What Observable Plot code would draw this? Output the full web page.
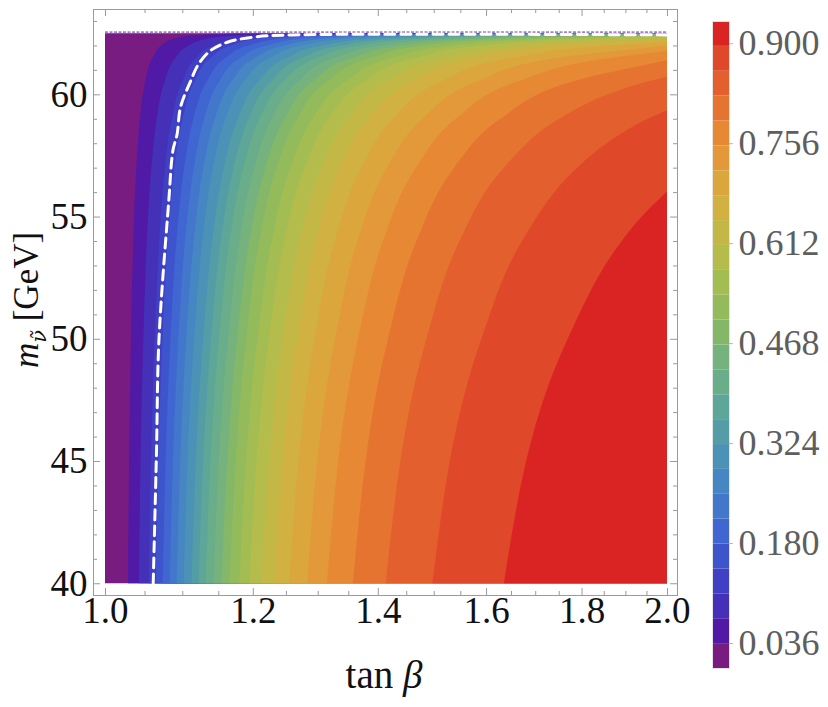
<!DOCTYPE html>
<html><head><meta charset="utf-8">
<script src="https://cdn.jsdelivr.net/npm/d3@7"></script>
<script src="https://cdn.jsdelivr.net/npm/@observablehq/plot@0.6"></script>
<style>
body{margin:0;background:#fff;}
#wrap{position:relative;width:828px;height:707px;background:#fff;}
#wrap svg{position:absolute;left:0;top:0;overflow:visible;}
</style></head><body><div id="wrap"></div>
<script>
// ---------------- data ----------------
const xDataRange = [1.0, 2.0];      // tan beta
const mDataRange = [40, 62.5];      // sneutrino mass [GeV]
const topEdgeM = 62.56;             // jagged purple upper edge

// 26 filled bands, lowest to highest
const bandColors = [
  "#781c81","#5019a6","#4530b8","#3f40c4","#3e54cd","#3f66d1","#4277cc","#4686c3",
  "#4c92b6","#559da6","#5ea698","#69ad8a","#76b27d","#84b768","#94bb5b","#a4bd52",
  "#b4bc4b","#c3b846","#d0b142","#dba73d","#e39939","#e68834","#e67431","#e45f2e",
  "#df4829","#da2423"
];

// contour boundaries between bands (lower edge of band k+1): m samples and tan(beta) positions
const boundaryM = [
  [40,50,54,57,59,60.5,61.5,62,62.3,62.42,62.48,62.5],
  [40,50,54,57,59,60.5,61.5,62,62.3,62.42,62.48,62.5],
  [40,50,54,57,59,60.5,61.5,62,62.3,62.42,62.48,62.5],
  [40,50,54,57,59,60.5,61.5,62,62.3,62.42,62.48,62.5],
  [40,50,54,57,59,60.5,61.5,62,62.3,62.42,62.48,62.5],
  [40,50,54,57,59,60.5,61.5,62,62.3,62.42,62.48,62.5],
  [40,50,54,57,59,60.5,61.5,62,62.3,62.42,62.48,62.5],
  [40,50,54,57,59,60.5,61.5,62,62.3,62.42,62.48,62.5],
  [40,50,54,57,59,60.5,61.5,62,62.3,62.42,62.48,62.5],
  [40,50,54,57,59,60.5,61.5,62,62.3,62.42,62.475],
  [40,50,54,57,59,60.5,61.5,62,62.3,62.42,62.467],
  [40,50,54,57,59,60.5,61.5,62,62.3,62.42,62.455],
  [40,50,54,57,59,60.5,61.5,62,62.3,62.42,62.441],
  [40,50,54,57,59,60.5,61.5,62,62.3,62.42,62.423],
  [40,50,54,57,59,60.5,61.5,62,62.3,62.396],
  [40,50,54,57,59,60.5,61.5,62,62.3,62.363],
  [40,50,54,57,59,60.5,61.5,62,62.3,62.3125],
  [40,50,54,57,59,60.5,61.5,62,62.244],
  [40,50,54,57,59,60.5,61.5,62,62.145],
  [40,50,54,57,59,60.5,61.5,61.99],
  [40,50,54,57,59,60.5,61.5,61.77],
  [40,50,54,57,59,60.5,61.39],
  [40,50,54,57,59,60,60.5,60.72],
  [40,50,54,57,58,59,59.35],
  [40,50,54,55,56.02]
];
const boundaryX = [
  [1.0287,1.0325,1.0355,1.0394,1.0441,1.0507,1.0605,1.0723,1.0917,1.1168,1.1699,2],
  [1.0426,1.0484,1.0529,1.0588,1.0658,1.0759,1.0908,1.1088,1.1389,1.1783,1.2638,2],
  [1.0555,1.0631,1.0691,1.0768,1.0861,1.0994,1.1192,1.1434,1.1840,1.2381,1.3590,2],
  [1.0646,1.0735,1.0805,1.0896,1.1005,1.1161,1.1395,1.1683,1.2170,1.2825,1.4325,2],
  [1.0738,1.0840,1.0921,1.1025,1.1151,1.1332,1.1604,1.1939,1.2512,1.3292,1.5128,2],
  [1.0831,1.0946,1.1037,1.1157,1.1299,1.1506,1.1817,1.2203,1.2868,1.3785,1.6015,2],
  [1.0924,1.1053,1.1156,1.1289,1.1450,1.1683,1.2035,1.2474,1.3238,1.4309,1.7003,2],
  [1.1019,1.1161,1.1276,1.1424,1.1603,1.1863,1.2258,1.2754,1.3625,1.4865,1.8117,2],
  [1.1127,1.1287,1.1414,1.1580,1.1781,1.2073,1.2520,1.3085,1.4088,1.5549,1.9588,2],
  [1.1223,1.1397,1.1536,1.1719,1.1939,1.2261,1.2755,1.3384,1.4515,1.6194,2],
  [1.1320,1.1509,1.1661,1.1859,1.2099,1.2453,1.2996,1.3694,1.4963,1.6890,2],
  [1.1432,1.1638,1.1804,1.2022,1.2286,1.2676,1.3280,1.4061,1.5505,1.7760,2],
  [1.1545,1.1769,1.1950,1.2187,1.2477,1.2905,1.3573,1.4445,1.6083,1.8723,2],
  [1.1659,1.1902,1.2097,1.2356,1.2671,1.3140,1.3875,1.4845,1.6700,1.9801,2],
  [1.1803,1.2069,1.2285,1.2570,1.2919,1.3442,1.4267,1.5371,1.7537,2],
  [1.1949,1.2240,1.2476,1.2789,1.3174,1.3753,1.4677,1.5930,1.8459,2],
  [1.2126,1.2447,1.2709,1.3057,1.3488,1.4140,1.5193,1.6649,1.9703,2],
  [1.2321,1.2677,1.2968,1.3357,1.3840,1.4578,1.5787,1.7498,2],
  [1.2550,1.2947,1.3274,1.3712,1.4261,1.5109,1.6522,1.8584,2],
  [1.2830,1.3281,1.3653,1.4156,1.4792,1.5787,1.7487,2],
  [1.3149,1.3662,1.4089,1.4672,1.5415,1.6599,1.8686,2],
  [1.3576,1.4177,1.4683,1.5382,1.6287,1.7766,2],
  [1.4137,1.4864,1.5484,1.6355,1.7511,1.8603,1.9474,2],
  [1.4974,1.5909,1.6726,1.7903,1.8566,1.9535,2],
  [1.6356,1.7694,1.8915,1.9388,2]
];

// white dashed exclusion contour
const dashM = [40,45.37,49.95,55.67,57.72,58.40,59.49,60.5,61.27,61.81,62.15,62.36,62.45,62.45];
const dashX = [1.0606,1.0649,1.0681,1.0812,1.0867,1.0924,1.0969,1.1098,1.1219,1.1383,1.1620,1.2002,1.26,2.0];

// axis ticks
const xTicksMajor = [1.0,1.2,1.4,1.6,1.8,2.0];
const xTicksMinor = [1.05,1.1,1.15,1.25,1.3,1.35,1.45,1.5,1.55,1.65,1.7,1.75,1.85,1.9,1.95];
const mTicksMajor = [40,45,50,55,60];
const mTicksMinor = [41,42,43,44,46,47,48,49,51,52,53,54,56,57,58,59,61,62,63];

// colour bar
const colorbarEdges = [0,0.0358,0.0717,0.1075,0.1434,0.1792,0.2151,0.2509,0.2868,0.3226,0.3585,0.3943,0.4302,
  0.4660,0.5018,0.5377,0.5735,0.6094,0.6452,0.6811,0.7169,0.7528,0.7886,0.8245,0.8603,0.8962,0.932];
const colorbarTicks = [0.036,0.180,0.324,0.468,0.612,0.756,0.900];

// ---------------- drawing ----------------
const W = 828, H = 707;
const mL = 93, mR = 151, mT = 9, mB = 112;
const frameW = W - mL - mR, frameH = H - mT - mB;
const serif = "Liberation Serif, Times New Roman, serif";
const gray = "#9a9a9a";

const boundaryRows = boundaryM.map((ms, k) => ms.map((m, i) => ({m, x: boundaryX[k][i], right: xDataRange[1]})));
const dashRows = dashM.map((m, i) => ({m, x: dashX[i]}));

const marks = [];
marks.push(Plot.rect([{x1: xDataRange[0], x2: xDataRange[1], y1: mDataRange[0], y2: mDataRange[1]}],
  {x1: "x1", x2: "x2", y1: "y1", y2: "y2", fill: bandColors[0]}));
boundaryRows.forEach((rows, k) => {
  marks.push(Plot.areaX(rows, {y: "m", x1: "x", x2: "right", fill: bandColors[k + 1], curve: "monotone-y"}));
});
marks.push(Plot.ruleY([topEdgeM], {y: d => d, x1: xDataRange[0], x2: xDataRange[1], stroke: "#8b55b5", strokeWidth: 2, strokeOpacity: 0.75, strokeDasharray: "3,1.5"}));
marks.push(Plot.line(dashRows, {x: "x", y: "m", stroke: "white", strokeWidth: 3, strokeDasharray: "10,6", curve: "catmull-rom"}));
marks.push(Plot.frame({stroke: gray}));
// ticks, inward on all four sides
marks.push(Plot.tickX(xTicksMajor, {x: d => d, insetTop: frameH - 7, stroke: gray}));
marks.push(Plot.tickX(xTicksMinor, {x: d => d, insetTop: frameH - 4, stroke: gray}));
marks.push(Plot.tickX(xTicksMajor, {x: d => d, insetBottom: frameH - 7, stroke: gray}));
marks.push(Plot.tickX(xTicksMinor, {x: d => d, insetBottom: frameH - 4, stroke: gray}));
marks.push(Plot.tickY(mTicksMajor, {y: d => d, insetRight: frameW - 7, stroke: gray}));
marks.push(Plot.tickY(mTicksMinor, {y: d => d, insetRight: frameW - 4, stroke: gray}));
marks.push(Plot.tickY(mTicksMajor, {y: d => d, insetLeft: frameW - 7, stroke: gray}));
marks.push(Plot.tickY(mTicksMinor, {y: d => d, insetLeft: frameW - 4, stroke: gray}));
// tick labels
marks.push(Plot.text(xTicksMajor, {x: d => d, frameAnchor: "bottom", dy: 27, text: d => d.toFixed(1),
  fontSize: 37, fontFamily: serif, fill: "#111"}));
marks.push(Plot.text(mTicksMajor, {y: d => d, frameAnchor: "left", dx: -6, textAnchor: "end", text: d => String(d),
  fontSize: 37, fontFamily: serif, fill: "#111"}));

const main = Plot.plot({
  width: W, height: H,
  marginLeft: mL, marginRight: mR, marginTop: mT, marginBottom: mB,
  x: {type: "log", domain: [0.98531, 2.0249], axis: null},
  y: {domain: [39.52, 63.49], axis: null},
  style: {background: "transparent", fontFamily: serif},
  marks
});

// colour bar
const cbRows = bandColors.map((c, i) => ({lo: colorbarEdges[i], hi: colorbarEdges[i + 1], c, a: 0, b: 1}));
const cb = Plot.plot({
  width: W, height: H,
  marginLeft: 712, marginRight: 99, marginTop: 21, marginBottom: 39,
  x: {domain: [0, 1], axis: null},
  y: {domain: [colorbarEdges[0], colorbarEdges[colorbarEdges.length - 1]], axis: null},
  color: {type: "identity"},
  style: {background: "transparent", fontFamily: serif},
  marks: [
    Plot.rect(cbRows, {x1: "a", x2: "b", y1: "lo", y2: "hi", fill: "c"}),
    Plot.frame({stroke: "#e4e4e4"}),
    Plot.tickY(colorbarTicks, {y: d => d, insetLeft: 13, dx: 4, stroke: "#b5b5b5"}),
    Plot.text(colorbarTicks, {y: d => d, frameAnchor: "right", dx: 9, textAnchor: "start",
      text: d => d.toFixed(3), fontSize: 36, fontFamily: serif, fill: "#5e5e5e"})
  ]
});

const wrap = document.getElementById("wrap");
wrap.appendChild(main);
wrap.appendChild(cb);

// axis titles (real text with italic/subscript parts)
const svg = d3.select(main);
const yl = svg.append("text")
  .attr("transform", "translate(38,300) rotate(-90)")
  .attr("text-anchor", "middle")
  .attr("font-family", serif).attr("font-size", 35).attr("fill", "#111");
yl.append("tspan").attr("font-style", "italic").text("m");
yl.append("tspan").attr("font-family", "DejaVu Serif").attr("font-style", "italic").attr("font-size", 21).attr("dy", 8).text("\u03bd\u0303");
yl.append("tspan").attr("dy", -8).text("\u00a0[GeV]");

const xl = svg.append("text")
  .attr("x", 384).attr("y", 688)
  .attr("text-anchor", "middle")
  .attr("font-family", serif).attr("font-size", 39).attr("fill", "#111");
xl.append("tspan").text("tan\u00a0");
xl.append("tspan").attr("font-style", "italic").text("\u03b2");
</script>
</body></html>
